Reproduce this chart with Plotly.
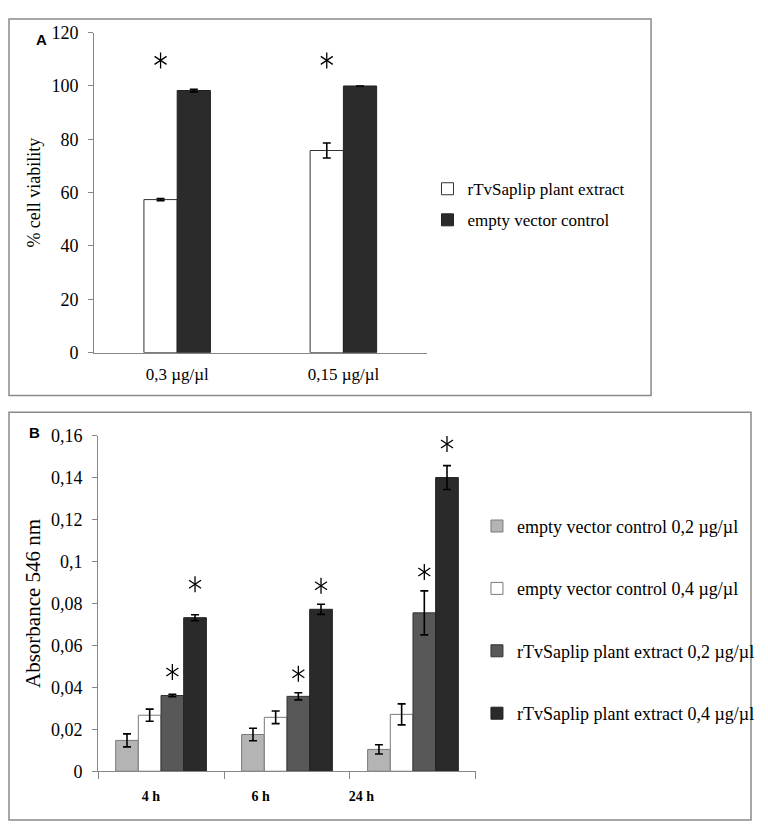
import plotly.graph_objects as go

# panel A - cell viability
conc_labels = ["0,3 µg/µl", "0,15 µg/µl"]
a_extract = [57.4, 75.8]
a_extract_err = [0.4, 2.8]
a_control = [98.3, 100.0]
a_control_err = [0.5, 0.0]
a_star = [109.6, 109.6]

# panel B - absorbance 546 nm
time_labels = ["4 h", "6 h", "24 h"]
time_label_pos = [-0.08, 0.79, 1.59]
b_ctrl_02 = [0.0147, 0.0175, 0.0104]
b_ctrl_02_err = [0.0031, 0.0030, 0.0022]
b_ctrl_04 = [0.0267, 0.0257, 0.0271]
b_ctrl_04_err = [0.0029, 0.0030, 0.0050]
b_ext_02 = [0.0361, 0.0357, 0.0755]
b_ext_02_err = [0.0006, 0.0017, 0.0105]
b_ext_04 = [0.0732, 0.0772, 0.1400]
b_ext_04_err = [0.0014, 0.0024, 0.0057]
b_star_ext_02 = [0.0473, 0.0465, 0.0950]
b_star_ext_04 = [0.0891, 0.0884, 0.1560]

# page is 768x839, the body keeps its default 8px margin
PAD = 8
W, H = 768 - 2 * PAD, 839 - 2 * PAD
FONT = "Liberation Serif"
AXC = "#868686"


def px_x(p):
    return (p - PAD) / W


def px_y(p):
    return 1 - (p - PAD) / H


def errs(arr):
    return dict(type="data", array=arr, color="black", thickness=1.6, width=4)


def stars(xs, ys, xa, ya):
    # six-armed asterisk = "y-up" + "y-down" markers on top of each other
    out = []
    for sym in ("y-up-open", "y-down-open"):
        out.append(go.Scatter(x=xs, y=ys, mode="markers", showlegend=False, hoverinfo="skip",
                              marker=dict(symbol=sym, size=10, color="black",
                                          line=dict(color="black", width=1.3)),
                              xaxis=xa, yaxis=ya))
    return out


a_w = 0.2   # bar width, panel A (2 bars per group)
b_w = 0.18  # bar width, panel B (4 bars per group)

fig = go.Figure()

# ---- A
a_idx = list(range(len(conc_labels)))
fig.add_trace(go.Bar(x=a_idx, y=a_extract, name="rTvSaplip plant extract",
                     width=a_w, offset=-a_w,
                     marker=dict(color="white", line=dict(color="#333", width=1)),
                     error_y=errs(a_extract_err), xaxis="x", yaxis="y",
                     legend="legend", legendgroup="a1"))
fig.add_trace(go.Bar(x=a_idx, y=a_control, name="empty vector control",
                     width=a_w, offset=0,
                     marker=dict(color="#2b2b2b", line=dict(color="#222", width=1)),
                     error_y=errs(a_control_err), xaxis="x", yaxis="y",
                     legend="legend", legendgroup="a2"))
fig.add_traces(stars([i - a_w / 2 for i in a_idx], a_star, "x", "y"))

# ---- B
x_idx = list(range(len(time_labels)))
b_series = [
    ("empty vector control 0,2 µg/µl", b_ctrl_02, b_ctrl_02_err, "#b4b4b4", "#7a7a7a"),
    ("empty vector control 0,4 µg/µl", b_ctrl_04, b_ctrl_04_err, "white", "#7a7a7a"),
    ("rTvSaplip plant extract 0,2 µg/µl", b_ext_02, b_ext_02_err, "#585858", "#333"),
    ("rTvSaplip plant extract 0,4 µg/µl", b_ext_04, b_ext_04_err, "#2a2a2a", "#222"),
]
for k, (name, vals, err, col, lcol) in enumerate(b_series):
    fig.add_trace(go.Bar(x=x_idx, y=vals, name=name,
                         width=b_w, offset=(k - 2) * b_w,
                         marker=dict(color=col, line=dict(color=lcol, width=1)),
                         error_y=errs(err), xaxis="x2", yaxis="y2",
                         legend="legend2", legendgroup="b%d" % k))

fig.add_traces(stars([i + 0.5 * b_w for i in x_idx] + [i + 1.5 * b_w for i in x_idx],
                     b_star_ext_02 + b_star_ext_04, "x2", "y2"))

annotations = [
    dict(text="<b>A</b>", x=px_x(34), y=px_y(19), xref="paper", yref="paper",
         showarrow=False, font=dict(family="Liberation Sans", size=15, color="black")),
    dict(text="<b>B</b>", x=px_x(27), y=px_y(433), xref="paper", yref="paper",
         showarrow=False, font=dict(family="Liberation Sans", size=15, color="black")),
]

frame = dict(type="rect", xref="paper", yref="paper", line=dict(color="#8a8a8a", width=1.5))
shapes = [
    dict(frame, x0=px_x(9), x1=px_x(658), y0=px_y(395), y1=px_y(9)),
    dict(frame, x0=px_x(9), x1=px_x(759), y0=px_y(830), y1=px_y(412)),
]

axis_common = dict(showline=True, linecolor=AXC, linewidth=1, showgrid=False, zeroline=False,
                   tickfont=dict(family=FONT, size=18, color="black"))

fig.update_layout(
    width=W, height=H,
    margin=dict(l=0, r=0, t=0, b=0),
    paper_bgcolor="white", plot_bgcolor="white",
    separators=", ",
    font=dict(family=FONT, color="black"),
    xaxis=dict(axis_common, domain=[px_x(95), px_x(431)], anchor="y", range=[-0.5, 1.5],
               tickmode="array", tickvals=a_idx, ticktext=conc_labels, ticks="",
               ticklabelstandoff=6, tickfont=dict(family=FONT, size=17, color="black")),
    yaxis=dict(axis_common, domain=[px_y(351), px_y(23)], anchor="x", range=[0, 120], dtick=20,
               ticks="outside", ticklen=5, tickcolor=AXC, ticklabelstandoff=6,
               title=dict(text="% cell viability", font=dict(family=FONT, size=18), standoff=6)),
    xaxis2=dict(axis_common, domain=[px_x(99), px_x(481)], anchor="y2", range=[-0.5, 2.5],
                tickmode="array", tickvals=time_label_pos, ticktext=time_labels, ticks="",
                ticklabelstandoff=12,
                tickfont=dict(family=FONT, size=14, color="black", weight="bold"),
                minor=dict(tickmode="array", tickvals=[-0.5, 0.5, 1.5, 2.5], ticks="outside",
                           ticklen=7, tickcolor=AXC)),
    yaxis2=dict(axis_common, domain=[px_y(780), px_y(436)], anchor="x2", range=[0, 0.16],
                dtick=0.02, ticks="outside", ticklen=5, tickcolor=AXC, ticklabelstandoff=6,
                title=dict(text="Absorbance 546 nm", font=dict(family=FONT, size=21), standoff=4)),
    legend=dict(x=px_x(432), y=px_y(165), xanchor="left", yanchor="top",
                font=dict(family=FONT, size=17), traceorder="grouped", tracegroupgap=6,
                bgcolor="rgba(0,0,0,0)"),
    legend2=dict(x=px_x(482), y=px_y(510), xanchor="left", yanchor="top",
                 font=dict(family=FONT, size=18), traceorder="grouped", tracegroupgap=36,
                 bgcolor="rgba(0,0,0,0)"),
    annotations=annotations,
    shapes=shapes,
)

fig.write_html("out.html", config={"displayModeBar": False})
